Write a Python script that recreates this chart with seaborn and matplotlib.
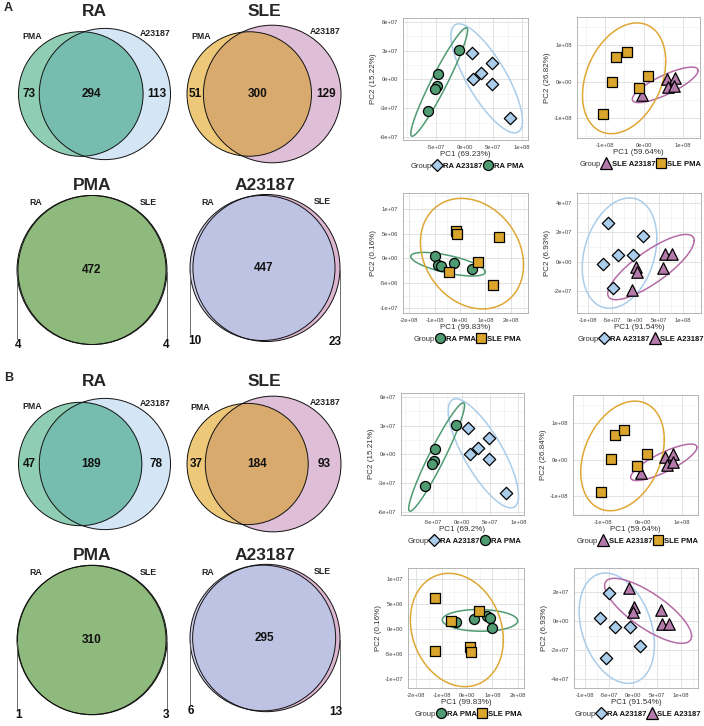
import numpy as np
import pandas as pd
import matplotlib
matplotlib.use('Agg')
import matplotlib.pyplot as plt
import seaborn as sns
from matplotlib.patches import Circle
from matplotlib.lines import Line2D
from matplotlib.ticker import FuncFormatter, AutoMinorLocator

sns.set_style('white')
plt.rcParams['font.family'] = ['Liberation Sans', 'DejaVu Sans']

# ---------------- venn counts (only set1, both, only set2) ----------------
ra_a = [73, 294, 113]
sle_a = [51, 300, 129]
pma_a = [4, 472, 4]
a23_a = [10, 447, 23]
ra_b = [47, 189, 78]
sle_b = [37, 184, 93]
pma_b = [1, 310, 3]
a23_b = [6, 295, 13]

# ---------------- PCA scores ----------------
# A, RA: A23187 vs PMA
ra_a23_ra_x = [1.2e7, 4.8e7, 2.9e7, 1.4e7, 4.8e7, 7.9e7]
ra_a23_ra_y = [2.8e7, 1.67e7, 6.3e6, 0.0, -4.2e6, -3.97e7]
ra_pma_ra_x = [-1.03e7, -4.66e7, -4.8e7, -5.2e7, -6.4e7]
ra_pma_ra_y = [3.03e7, 5.2e6, -6.3e6, -9.4e6, -3.3e7]
# A, SLE: A23187 vs PMA
sle_a23_sle_x = [-5e6, 5.9e7, 8e7, 6.2e7, 7.7e7]
sle_a23_sle_y = [-3.8e7, 8e6, 1.1e7, -1.6e7, -1.1e7]
sle_pma_sle_x = [-7.2e7, -4.4e7, -8.2e7, 1.0e7, -1.3e7, -1.05e8]
sle_pma_sle_y = [6.6e7, 8.2e7, 0.0, 1.4e7, -1.9e7, -9.0e7]
# A, PMA: RA vs SLE
ra_pma_pma_x = [-9.8e7, -8.6e7, -7.5e7, -2.4e7, 4.7e7]
ra_pma_pma_y = [4e5, -1.4e6, -1.6e6, -1.0e6, -2.2e6]
sle_pma_pma_x = [-1.6e7, -1.2e7, -4.3e7, 7e7, 1.3e8, 1.53e8]
sle_pma_pma_y = [5.5e6, 4.9e6, -2.8e6, -8e5, -5.3e6, 4.3e6]
# A, A23187: RA vs SLE
ra_a23_a23_x = [-5.7e7, 1.5e7, -3.6e7, -6e6, -6.9e7, -4.8e7]
ra_a23_a23_y = [2.66e7, 1.77e7, 4.8e6, 4.8e6, -1.4e6, -1.77e7]
sle_a23_a23_x = [6.3e7, 7.6e7, 5.9e7, 2e6, 4e6, -8e6]
sle_a23_a23_y = [5.5e6, 5.5e6, -4e6, -3.4e6, -6.8e6, -1.9e7]
# B, RA
ra_a23_rab_x = [1.2e7, 4.8e7, 2.9e7, 1.4e7, 4.8e7, 7.9e7]
ra_a23_rab_y = [2.8e7, 1.67e7, 6.3e6, 0.0, -4.2e6, -3.97e7]
ra_pma_rab_x = [-1.03e7, -4.66e7, -4.8e7, -5.2e7, -6.4e7]
ra_pma_rab_y = [3.03e7, 5.2e6, -6.3e6, -9.4e6, -3.3e7]
# B, SLE
sle_a23_sleb_x = [-5e6, 5.6e7, 7.8e7, 6.1e7, 7.8e7]
sle_a23_sleb_y = [-3.8e7, 8e6, 1.4e7, -1.4e7, -8e6]
sle_pma_sleb_x = [-7.1e7, -4.6e7, -8.1e7, 1.0e7, -1.3e7, -1.04e8]
sle_pma_sleb_y = [6.6e7, 8.2e7, 2.7e6, 1.6e7, -1.9e7, -8.8e7]
# B, PMA
ra_pma_pmab_x = [-4.5e7, 2.8e7, 8e7, 9.2e7, 1.0e8]
ra_pma_pmab_y = [1.5e6, 2e6, 2.6e6, 2.2e6, 3e5]
sle_pma_pmab_x = [-1.24e8, -6.4e7, 4.8e7, -1.24e8, 1.0e7, 1.4e7]
sle_pma_pmab_y = [6.2e6, 1.6e6, 3.6e6, -4.4e6, -3.6e6, -4.6e6]
# B, A23187
ra_a23_a23b_x = [-5e7, -6.9e7, -3.75e7, -6e6, 1.46e7, -5.6e7]
ra_a23_a23b_y = [1.93e7, 2e6, -4.1e6, -4.1e6, -1.72e7, -2.55e7]
sle_a23_a23b_x = [-8e6, 2e6, 0.0, 5.8e7, 6e7, 7.5e7]
sle_a23_a23b_y = [2.28e7, 9.7e6, 6.2e6, 7.6e6, -2e6, -2e6]

group_color = {'RA A23187': '#a9cdea', 'RA PMA': '#4f9b72',
               'SLE A23187': '#b47aab', 'SLE PMA': '#dba42d'}
ell_color = {'RA A23187': '#a9cdea', 'RA PMA': '#4f9b72',
             'SLE A23187': '#b56ba5', 'SLE PMA': '#dfa733'}
group_marker = {'RA A23187': 'D', 'RA PMA': 'o', 'SLE A23187': '^', 'SLE PMA': 's'}
group_size = {'RA A23187': 40, 'RA PMA': 52, 'SLE A23187': 68, 'SLE PMA': 44}

W, H = 704, 726
fig = plt.figure(figsize=(W / 100, H / 100), dpi=100)
bg = fig.add_axes([0, 0, 1, 1])
bg.set_xlim(0, W)
bg.set_ylim(H, 0)
bg.axis('off')


def lens(r1, r2, d):
    if d >= r1 + r2:
        return 0.0
    if d <= abs(r1 - r2):
        return np.pi * min(r1, r2) ** 2
    a1 = np.arccos((d * d + r1 * r1 - r2 * r2) / (2 * d * r1))
    a2 = np.arccos((d * d + r2 * r2 - r1 * r1) / (2 * d * r2))
    k = np.sqrt((-d + r1 + r2) * (d + r1 - r2) * (d - r1 + r2) * (d + r1 + r2))
    return r1 * r1 * a1 + r2 * r2 * a2 - 0.5 * k


def venn2(cx, cy, counts, width, cols, names, title, ty):
    a, ab, b = counts
    r1 = np.sqrt((a + ab) / np.pi)
    r2 = np.sqrt((ab + b) / np.pi)
    lo, hi = abs(r1 - r2), r1 + r2
    for _ in range(80):
        mid = (lo + hi) / 2
        if lens(r1, r2, mid) > ab:
            lo = mid
        else:
            hi = mid
    d = (lo + hi) / 2
    s = width / (r1 + d + r2)
    r1, r2, d = r1 * s, r2 * s, d * s
    x1 = cx - width / 2 + r1
    x2 = x1 + d
    c1 = Circle((x1, cy), r1, fc=cols[0], ec='none')
    c2 = Circle((x2, cy), r2, fc=cols[2], ec='none')
    c12 = Circle((x2, cy), r2, fc=cols[1], ec='none')
    for c in (c1, c2, c12):
        bg.add_patch(c)
    c12.set_clip_path(c1)
    bg.add_patch(Circle((x1, cy), r1, fill=False, ec='#111111', lw=0.7))
    bg.add_patch(Circle((x2, cy), r2, fill=False, ec='#111111', lw=0.7))
    num = dict(fontsize=8.5, fontweight='bold', color='#111111', va='center')
    le1, le2, re1, re2 = x1 - r1, x2 - r2, x1 + r1, x2 + r2
    bg.text((le2 + re1) / 2, cy, str(ab), ha='center', **num)
    if le2 - le1 > 12:
        bg.text((le1 + le2) / 2, cy, str(a), ha='center', **num)
    else:
        bg.plot([le1, le1], [cy + 2, cy + 0.92 * r1], color='#555555', lw=0.6)
        bg.text(le1 - 2, cy + r1, str(a), ha='left', **num)
    if re2 - re1 > 12:
        bg.text((re1 + re2) / 2, cy, str(b), ha='center', **num)
    else:
        bg.plot([re2, re2], [cy + 2, cy + 0.92 * r2], color='#555555', lw=0.6)
        bg.text(re2 + 2, cy + r2, str(b), ha='right', **num)
    ang = np.radians(40)
    cat = dict(fontsize=6.3, fontweight='bold', color='#222222', ha='center', va='center')
    bg.text(x1 - (r1 + 13) * np.sin(ang), cy - (r1 + 13) * np.cos(ang), names[0], **cat)
    bg.text(x2 + (r2 + 13) * np.sin(ang), cy - (r2 + 13) * np.cos(ang), names[1], **cat)
    bg.text(cx, ty, title, fontsize=12.5, fontweight='bold', ha='center', va='center')


ra_cols = ['#8fceb4', '#76bdb0', '#d4e6f6']
sle_cols = ['#edc878', '#d9aa6e', '#dfbed7']
pma_cols = ['#a3c794', '#8fba7d', '#a3c794']
a23_cols = ['#cfd2ec', '#bec3e4', '#dcb6d1']

for off, (ra, sle, pma, a23) in zip([0, 370], [(ra_a, sle_a, pma_a, a23_a), (ra_b, sle_b, pma_b, a23_b)]):
    venn2(94.5, 94 + off, ra, 152, ra_cols, ['PMA', 'A23187'], 'RA', 12 + off)
    venn2(264, 94 + off, sle, 154, sle_cols, ['PMA', 'A23187'], 'SLE', 12 + off)
    venn2(92, 270 + off, pma, 150, pma_cols, ['RA', 'SLE'], 'PMA', 186 + off)
    venn2(265, 268 + off, a23, 150, a23_cols, ['RA', 'SLE'], 'A23187', 186 + off)

bg.text(4, 8, 'A', fontsize=9, fontweight='bold', va='center')
bg.text(4, 378, 'B', fontsize=9, fontweight='bold', va='center')

sci = FuncFormatter(lambda v, p: '{:.0e}'.format(v))
K = np.sqrt(5.991)


def pca_panel(rect, g1, g2, xlab, ylab, xlim, ylim, xt, yt):
    l, t, r, b = rect
    ax = fig.add_axes([l / W, 1 - b / H, (r - l) / W, (b - t) / H])
    df = pd.concat([pd.DataFrame({'PC1': x, 'PC2': y, 'Group': n}) for n, x, y in (g1, g2)])
    for n, x, y in (g1, g2):
        pts = np.column_stack([x, y])
        cov = np.cov(pts.T)
        L = np.linalg.cholesky(cov)
        tt = np.linspace(0, 2 * np.pi, 200)
        e = pts.mean(0)[:, None] + K * L @ np.vstack([np.cos(tt), np.sin(tt)])
        ax.plot(e[0], e[1], color=ell_color[n], lw=1.1, zorder=2)
        sub = df[df['Group'] == n]
        sns.scatterplot(data=sub, x='PC1', y='PC2', color=group_color[n], marker=group_marker[n],
                        s=group_size[n], edgecolor='black', linewidth=0.9, ax=ax, legend=False, zorder=3)
    ax.set_xlim(xlim)
    ax.set_ylim(ylim)
    ax.set_xticks(xt)
    ax.set_yticks(yt)
    ax.xaxis.set_major_formatter(sci)
    ax.yaxis.set_major_formatter(sci)
    ax.xaxis.set_minor_locator(AutoMinorLocator(2))
    ax.yaxis.set_minor_locator(AutoMinorLocator(2))
    ax.grid(which='major', color='#dddddd', lw=0.6)
    ax.grid(which='minor', color='#eeeeee', lw=0.4)
    ax.set_axisbelow(True)
    for sp in ax.spines.values():
        sp.set_color('#aaaaaa')
        sp.set_linewidth(0.6)
    ax.tick_params(which='major', length=2, width=0.5, color='#999999', labelsize=4.2, labelcolor='#444444', pad=1.5)
    ax.tick_params(which='minor', length=0)
    ax.set_xlabel(xlab, fontsize=5.8, color='#333333', labelpad=1)
    ax.set_ylabel(ylab, fontsize=5.8, color='#333333', labelpad=2)
    hs = [Line2D([], [], linestyle='none')]
    labs = ['Group']
    for n, _, _ in (g1, g2):
        hs.append(Line2D([], [], linestyle='none', marker=group_marker[n], markersize=np.sqrt(group_size[n]) * 1.0,
                         markerfacecolor=group_color[n], markeredgecolor='black', markeredgewidth=0.9))
        labs.append(n)
    leg = ax.legend(hs, labs, ncol=3, loc='center', bbox_to_anchor=(0.47, -26 / (b - t)), frameon=False,
                    fontsize=5.5, handlelength=1.3, handletextpad=0.1, columnspacing=0.05, borderaxespad=0)
    for i, tx in enumerate(leg.get_texts()):
        tx.set_fontweight('normal' if i == 0 else 'bold')
        tx.set_color('#333333' if i == 0 else '#111111')
    return ax


pca_panel((403, 18, 528, 140), ('RA A23187', ra_a23_ra_x, ra_a23_ra_y), ('RA PMA', ra_pma_ra_x, ra_pma_ra_y),
          'PC1 (69.23%)', 'PC2 (15.22%)', (-1.07e8, 1.1e8), (-6.3e7, 6.4e7),
          [-5e7, 0, 5e7, 1e8], [-6e7, -3e7, 0, 3e7, 6e7])
pca_panel((577, 17, 700, 138), ('SLE A23187', sle_a23_sle_x, sle_a23_sle_y), ('SLE PMA', sle_pma_sle_x, sle_pma_sle_y),
          'PC1 (59.64%)', 'PC2 (26.82%)', (-1.72e8, 1.44e8), (-1.55e8, 1.77e8),
          [-1e8, 0, 1e8], [-1e8, 0, 1e8])
pca_panel((403, 193, 528, 313), ('RA PMA', ra_pma_pma_x, ra_pma_pma_y), ('SLE PMA', sle_pma_pma_x, sle_pma_pma_y),
          'PC1 (99.83%)', 'PC2 (0.16%)', (-2.24e8, 2.67e8), (-1.1e7, 1.32e7),
          [-2e8, -1e8, 0, 1e8, 2e8], [-1e7, -5e6, 0, 5e6, 1e7])
pca_panel((577, 193, 701, 313), ('RA A23187', ra_a23_a23_x, ra_a23_a23_y), ('SLE A23187', sle_a23_a23_x, sle_a23_a23_y),
          'PC1 (91.54%)', 'PC2 (6.93%)', (-1.23e8, 1.38e8), (-3.5e7, 4.68e7),
          [-1e8, -5e7, 0, 5e7, 1e8], [-2e7, 0, 2e7, 4e7])
pca_panel((401, 393, 524, 515), ('RA A23187', ra_a23_rab_x, ra_a23_rab_y), ('RA PMA', ra_pma_rab_x, ra_pma_rab_y),
          'PC1 (69.2%)', 'PC2 (15.21%)', (-1.07e8, 1.1e8), (-6.3e7, 6.4e7),
          [-5e7, 0, 5e7, 1e8], [-6e7, -3e7, 0, 3e7, 6e7])
pca_panel((573, 395, 698, 515), ('SLE A23187', sle_a23_sleb_x, sle_a23_sleb_y), ('SLE PMA', sle_pma_sleb_x, sle_pma_sleb_y),
          'PC1 (59.64%)', 'PC2 (26.84%)', (-1.76e8, 1.4e8), (-1.52e8, 1.77e8),
          [-1e8, 0, 1e8], [-1e8, 0, 1e8])
pca_panel((408, 568, 524, 688), ('RA PMA', ra_pma_pmab_x, ra_pma_pmab_y), ('SLE PMA', sle_pma_pmab_x, sle_pma_pmab_y),
          'PC1 (99.83%)', 'PC2 (0.16%)', (-2.32e8, 2.24e8), (-1.18e7, 1.22e7),
          [-2e8, -1e8, 0, 1e8, 2e8], [-1e7, -5e6, 0, 5e6, 1e7])
pca_panel((574, 568, 698, 688), ('RA A23187', ra_a23_a23b_x, ra_a23_a23b_y), ('SLE A23187', sle_a23_a23b_x, sle_a23_a23b_y),
          'PC1 (91.54%)', 'PC2 (6.93%)', (-1.23e8, 1.35e8), (-4.62e7, 3.66e7),
          [-1e8, -5e7, 0, 5e7, 1e8], [-4e7, -2e7, 0, 2e7])

plt.savefig('out.png', dpi=100)
